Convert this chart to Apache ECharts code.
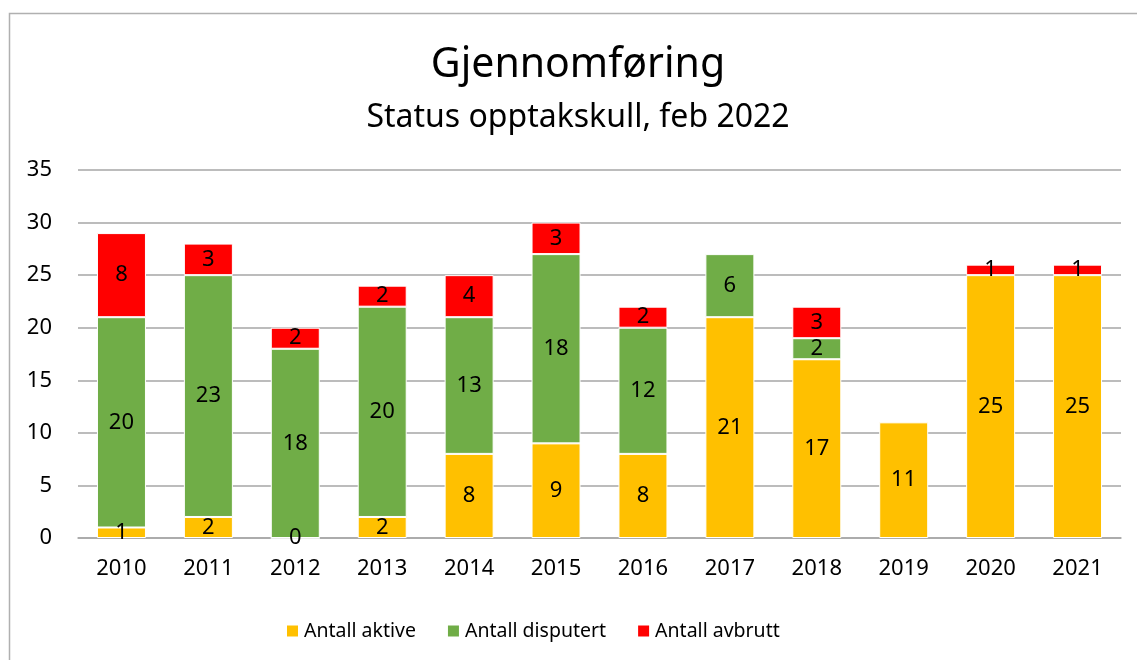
<!DOCTYPE html>
<html>
<head>
<meta charset="utf-8">
<script src="https://cdn.jsdelivr.net/npm/echarts@6/dist/echarts.min.js"></script>
<style>
html,body{margin:0;padding:0;background:#fff;}
#chart{width:1137px;height:660px;}
</style>
</head>
<body>
<div id="chart"></div>
<script>
const years = ['2010','2011','2012','2013','2014','2015','2016','2017','2018','2019','2020','2021'];
const aktive = [1, 2, 0, 2, 8, 9, 8, 21, 17, 11, 25, 25];
const disputert = [20, 23, 18, 20, 13, 18, 12, 6, 2, null, null, null];
const avbrutt = [8, 3, 2, 2, 4, 3, 2, null, 3, null, 1, 1];
const yTicks = [0, 5, 10, 15, 20, 25, 30, 35];

const FONT = '"Noto Sans", "Open Sans", sans-serif';
const chart = echarts.init(document.getElementById('chart'));

function mk(name, data, color) {
  return {
    name: name,
    type: 'bar',
    stack: 'total',
    barWidth: 49,
    data: data,
    itemStyle: { color: color, borderColor: '#ffffff', borderWidth: 1 },
    label: {
      show: true,
      position: 'inside',
      color: '#000',
      fontFamily: FONT,
      fontSize: 22,
      formatter: p => (p.value === null || p.value === undefined) ? '' : String(p.value)
    }
  };
}

chart.setOption({
  backgroundColor: '#fff',
  animation: false,
  graphic: [{
    type: 'rect',
    shape: { x: 9.5, y: 13.5, width: 1200, height: 700 },
    style: { fill: 'none', stroke: '#b0b0b0', lineWidth: 1.5 },
    silent: true
  }],
  title: {
    text: 'Gjennomføring',
    subtext: 'Status opptakskull, feb 2022',
    left: 573,
    textAlign: 'center',
    top: 40,
    itemGap: 16,
    textStyle: { fontFamily: FONT, fontSize: 41, fontWeight: 'normal', color: '#000' },
    subtextStyle: { fontFamily: FONT, fontSize: 32, color: '#000' }
  },
  legend: {
    bottom: 14,
    left: 280,
    icon: 'rect',
    itemWidth: 13,
    itemHeight: 13,
    itemGap: 30,
    textStyle: { fontFamily: FONT, fontSize: 19.5, color: '#000' },
    data: ['Antall aktive', 'Antall disputert', 'Antall avbrutt']
  },
  grid: { left: 78, right: 16, top: 170, bottom: 122 },
  xAxis: {
    type: 'category',
    data: years,
    axisTick: { show: false },
    axisLine: { lineStyle: { color: '#a6a6a6', width: 1.5 } },
    axisLabel: { color: '#000', fontFamily: FONT, fontSize: 22, margin: 20 }
  },
  yAxis: {
    type: 'value',
    min: yTicks[0],
    max: yTicks[yTicks.length - 1],
    interval: 5,
    axisLine: { show: false },
    axisTick: { show: false },
    splitLine: { lineStyle: { color: '#a6a6a6', width: 1.5 } },
    axisLabel: { color: '#000', fontFamily: FONT, fontSize: 22, margin: 26 }
  },
  series: [
    mk('Antall aktive', aktive, '#FFC000'),
    mk('Antall disputert', disputert, '#70AD47'),
    mk('Antall avbrutt', avbrutt, '#FF0000')
  ]
});
</script>
</body>
</html>
